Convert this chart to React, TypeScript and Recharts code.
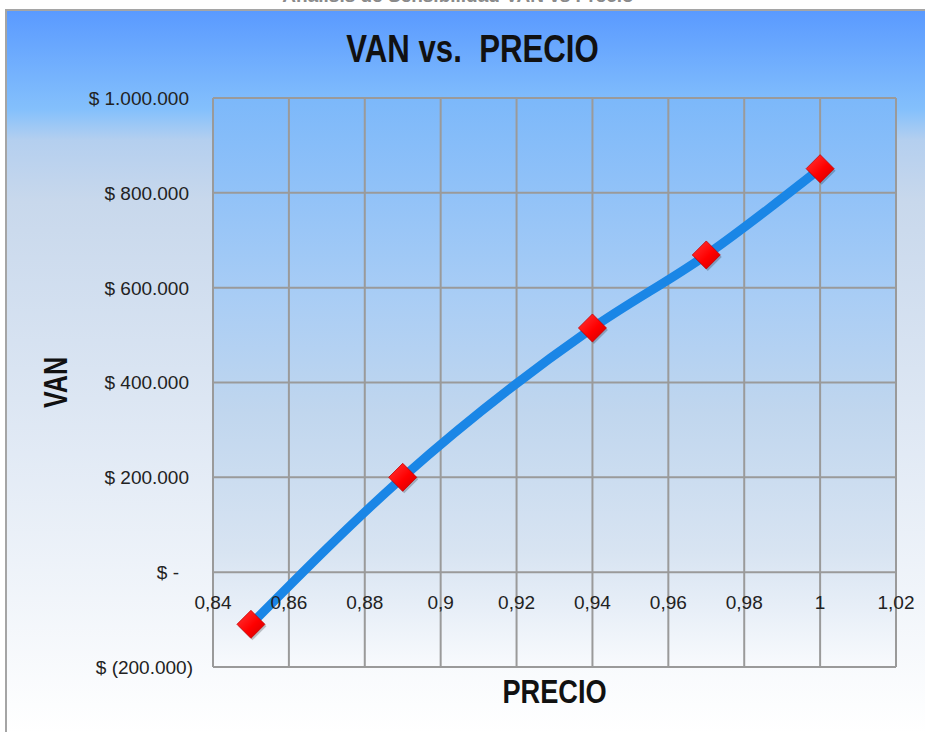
import { LineChart, Line, XAxis, YAxis, CartesianGrid } from 'recharts'

// valores
const precios = [0.85, 0.89, 0.94, 0.97, 1.0]
const vanValores = [-110000, 200000, 515000, 669000, 851000]
const xTicks = [0.84, 0.86, 0.88, 0.9, 0.92, 0.94, 0.96, 0.98, 1, 1.02]
const yTicks = [-200000, 0, 200000, 400000, 600000, 800000, 1000000]

const data = precios.map((p, i) => ({ precio: p, van: vanValores[i] }))

const W = 925
const H = 732
const MARGIN = { top: 98, right: 29, bottom: 0, left: 0 }
const X_AXIS_H = 65
const Y_AXIS_W = 213
const PLOT_H = H - MARGIN.top - MARGIN.bottom - X_AXIS_H
const Y_MIN = yTicks[0]
const Y_MAX = yTicks[yTicks.length - 1]
// the x axis crosses at VAN = 0, so its labels sit that far above the plot bottom
const ZERO_UP = (PLOT_H * (0 - Y_MIN)) / (Y_MAX - Y_MIN)

// no narrow font installed: squeeze Liberation Sans Bold instead
const BOLD_FONT = "'Liberation Sans', Arial, sans-serif"
const TICK_FONT = "'Liberation Sans', Arial, sans-serif"

const fmtPrecio = (v: number) => String(v).replace('.', ',')

const fmtVan = (v: number) => {
    if (v === 0) return '$ -'
    const s = String(Math.abs(v)).replace(/\B(?=(\d{3})+(?!\d))/g, '.')
    return v < 0 ? `$ (${s})` : `$ ${s}`
}

const XTick = ({ x, y, payload }: any) => (
    <text
        x={x}
        y={y - ZERO_UP + 37}
        textAnchor="middle"
        fontFamily={TICK_FONT}
        fontSize={19}
        fill="#222"
    >
        {fmtPrecio(payload.value)}
    </text>
)

const YTick = ({ x, y, payload }: any) => {
    const v = payload.value
    const dx = v === 0 ? -14 : v > 0 ? -4 : 0
    return (
        <text
            x={x + dx}
            y={y}
            dy="0.36em"
            textAnchor="end"
            fontFamily={TICK_FONT}
            fontSize={19}
            fill="#222"
        >
            {fmtVan(v)}
        </text>
    )
}

const Diamond = ({ cx, cy }: any) => {
    if (cx == null || cy == null) return null
    const r = 14
    const pts = `${cx},${cy - r} ${cx + r},${cy} ${cx},${cy + r} ${cx - r},${cy}`
    return (
        <g>
            <polygon points={pts} fill="rgba(0,0,0,0.22)" transform="translate(1.5,2)" />
            <polygon points={pts} fill="url(#diamondFill)" stroke="#c80000" strokeWidth={0.8} />
        </g>
    )
}

const XLabel = ({ viewBox }: any) => {
    const cx = viewBox.x + viewBox.width / 2
    const cy = viewBox.y + 36
    return (
        <text
            transform={`translate(${cx}, ${cy}) scale(0.8, 1)`}
            textAnchor="middle"
            fontFamily={BOLD_FONT}
            fontWeight="bold"
            fontSize={34}
            fill="#111"
        >
            PRECIO
        </text>
    )
}

const YLabel = ({ viewBox }: any) => {
    const cx = 55
    const cy = viewBox.y + viewBox.height / 2
    return (
        <text
            transform={`translate(${cx}, ${cy}) rotate(-90) scale(0.76, 1)`}
            textAnchor="middle"
            dominantBaseline="central"
            fontFamily={BOLD_FONT}
            fontWeight="bold"
            fontSize={33}
            fill="#111"
        >
            VAN
        </text>
    )
}

export default function App() {
    return (
        <div
            style={{
                position: 'absolute',
                left: 0,
                top: 0,
                width: W,
                height: H,
                overflow: 'hidden',
                background: '#fff',
            }}
        >
            <div
                style={{
                    position: 'absolute',
                    left: 0,
                    width: 916,
                    top: -14,
                    textAlign: 'center',
                    fontFamily: TICK_FONT,
                    fontWeight: 'bold',
                    fontSize: 19,
                    lineHeight: '19px',
                    color: '#8a8a8a',
                }}
            >
                Análisis de Sensibilidad VAN vs Precio
            </div>
            <div
                style={{
                    position: 'absolute',
                    left: 5,
                    top: 9,
                    width: 960,
                    height: 760,
                    borderLeft: '2px solid #a5a5a5',
                    borderTop: '2px solid #a5a5a5',
                    background:
                        'linear-gradient(to bottom, #5a9aff 0%, #84c0fc 13%, #b4cfef 17%, #c8d8ec 25%, #dce6f3 51%, #ffffff 95%)',
                }}
            />
            <div
                style={{
                    position: 'absolute',
                    left: 0,
                    width: 945,
                    top: 27,
                    textAlign: 'center',
                    fontFamily: BOLD_FONT,
                    fontWeight: 'bold',
                    fontSize: 39,
                    lineHeight: '44px',
                    color: '#111',
                    whiteSpace: 'pre',
                    transform: 'scaleX(0.8)',
                    transformOrigin: 'center',
                }}
            >
                {'VAN vs.  PRECIO'}
            </div>
            <div style={{ position: 'absolute', left: 0, top: 0 }}>
                <LineChart width={W} height={H} data={data} margin={MARGIN}>
                    <defs>
                        <linearGradient id="plotBg" x1="0" y1="0" x2="0" y2="1">
                            <stop offset="0%" stopColor="#7cb8fa" />
                            <stop offset="35%" stopColor="#a9cdf5" />
                            <stop offset="55%" stopColor="#c0d6ee" />
                            <stop offset="80%" stopColor="#d8e4f2" />
                            <stop offset="100%" stopColor="#f8fafd" />
                        </linearGradient>
                        <linearGradient id="diamondFill" x1="0" y1="0" x2="1" y2="1">
                            <stop offset="0%" stopColor="#ff3a3a" />
                            <stop offset="55%" stopColor="#ff0000" />
                            <stop offset="100%" stopColor="#cc0000" />
                        </linearGradient>
                    </defs>
                    <CartesianGrid
                        stroke="#9a9a9a"
                        strokeWidth={2}
                        fill="url(#plotBg)"
                        fillOpacity={1}
                        horizontalValues={yTicks}
                        verticalValues={xTicks}
                    />
                    <XAxis
                        dataKey="precio"
                        type="number"
                        domain={[xTicks[0], xTicks[xTicks.length - 1]]}
                        ticks={xTicks}
                        height={X_AXIS_H}
                        axisLine={false}
                        tickLine={false}
                        tickSize={0}
                        tickMargin={0}
                        tick={<XTick />}
                        interval={0}
                        label={<XLabel />}
                    />
                    <YAxis
                        type="number"
                        domain={[Y_MIN, Y_MAX]}
                        ticks={yTicks}
                        width={Y_AXIS_W}
                        axisLine={false}
                        tickLine={false}
                        tickSize={0}
                        tickMargin={20}
                        tick={<YTick />}
                        interval={0}
                        label={<YLabel />}
                    />
                    <Line
                        type="monotone"
                        dataKey="van"
                        stroke="#1a86e6"
                        strokeWidth={9}
                        dot={<Diamond />}
                        activeDot={false}
                        isAnimationActive={false}
                    />
                </LineChart>
            </div>
        </div>
    )
}
